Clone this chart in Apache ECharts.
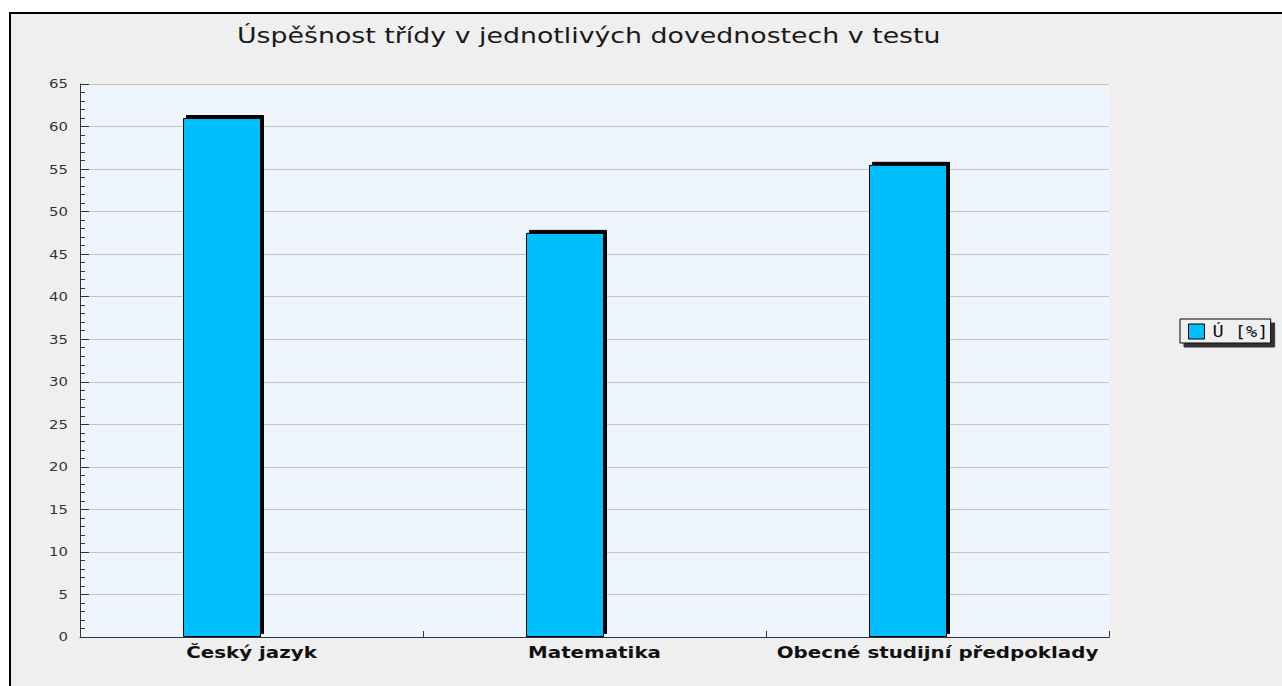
<!DOCTYPE html>
<html>
<head>
<meta charset="utf-8">
<script src="https://cdn.jsdelivr.net/npm/echarts@6/dist/echarts.min.js"></script>
<style>
html,body{margin:0;padding:0;background:#fff;width:1282px;height:686px;overflow:hidden;}
#bg{position:absolute;left:9px;top:12px;right:0;bottom:0;background:#efefef;border-left:2px solid #000;border-top:2px solid #000;}
#chart{position:absolute;left:0;top:0;width:1282px;height:686px;}
</style>
</head>
<body>
<div id="bg"></div>
<div id="chart"></div>
<script>
const titleText = 'Úspěšnost třídy v jednotlivých dovednostech v testu';
const categories = ['Český jazyk', 'Matematika', 'Obecné studijní předpoklady'];
const seriesName = 'Ú [%]';
const values = [61, 47.5, 55.5];
const yMin = 0, yMax = 65, yStep = 5;

// the reference renders its text horizontally widened
const TEXT_STRETCH = 1.24;

const chart = echarts.init(document.getElementById('chart'), null, {renderer: 'svg'});
chart.setOption({
  backgroundColor: 'transparent',
  animation: false,
  title: {
    text: titleText,
    left: 237, top: 24, padding: 0,
    textStyle: {fontFamily: 'DejaVu Sans', fontSize: 21.6, fontWeight: 'normal', color: '#1a1a1a'}
  },
  legend: {
    data: [seriesName],
    left: 1180, top: 319,
    orient: 'vertical',
    padding: [4, 13, 3, 8],
    itemWidth: 16, itemHeight: 15,
    backgroundColor: '#efefef',
    borderColor: '#000', borderWidth: 1, borderRadius: 0,
    shadowColor: '#333', shadowBlur: 0, shadowOffsetX: 4, shadowOffsetY: 4,
    icon: 'rect',
    itemStyle: {borderColor: '#000', borderWidth: 1, shadowColor: 'rgba(0,0,0,0)', shadowBlur: 0, shadowOffsetX: 0, shadowOffsetY: 0},
    textStyle: {fontFamily: 'DejaVu Sans Mono', fontSize: 15, color: '#111', padding: [0, 0, 0, 3], lineHeight: 17}
  },
  grid: {left: 80, right: 173, top: 84, bottom: 49, containLabel: false,
         show: true, backgroundColor: '#eef5fd', borderWidth: 0},
  xAxis: {
    type: 'category',
    data: categories,
    boundaryGap: true,
    axisLine: {lineStyle: {color: '#333', width: 1}},
    axisTick: {show: true, inside: true, length: 6, lineStyle: {color: '#333'}},
    axisLabel: {margin: 7, fontFamily: 'DejaVu Sans', fontWeight: 'bold', fontSize: 16, color: '#111', interval: 0}
  },
  yAxis: {
    type: 'value',
    min: yMin, max: yMax, interval: yStep,
    axisLine: {show: true, lineStyle: {color: '#333', width: 1}},
    axisTick: {show: true, inside: true, length: 9, lineStyle: {color: '#333'}},
    minorTick: {show: true, splitNumber: 5, length: 5, lineStyle: {color: '#333'}},
    splitLine: {show: true, lineStyle: {color: '#c4c4c4', width: 1}},
    axisLabel: {margin: 12, fontFamily: 'DejaVu Sans', fontSize: 12, color: '#333'}
  },
  series: [
    {
      name: seriesName,
      type: 'bar',
      data: values,
      barWidth: 78,
      barGap: '-24.4%',
      itemStyle: {color: '#00bfff', borderColor: '#000', borderWidth: 1,
                  shadowColor: '#000', shadowBlur: 0, shadowOffsetX: 3, shadowOffsetY: -3}
    },
    {
      name: '_spacer',
      type: 'bar',
      data: values.map(() => null),
      barWidth: 78,
      silent: true
    }
  ]
});

function stretchTexts() {
  const root = document.getElementById('chart');
  root.querySelectorAll('text').forEach(t => {
    if (t.getAttribute('data-st')) return;
    const x = parseFloat(t.getAttribute('x') || '0');
    const tr = t.getAttribute('transform') || '';
    t.setAttribute('transform', (tr + ' translate(' + x + ' 0) scale(' + TEXT_STRETCH + ' 1) translate(' + (-x) + ' 0)').trim());
    t.setAttribute('data-st', '1');
  });
}
try { chart.getZr().refreshImmediately(); } catch (e) {}
stretchTexts();
chart.on('finished', stretchTexts);
setTimeout(stretchTexts, 50);
</script>
</body>
</html>
